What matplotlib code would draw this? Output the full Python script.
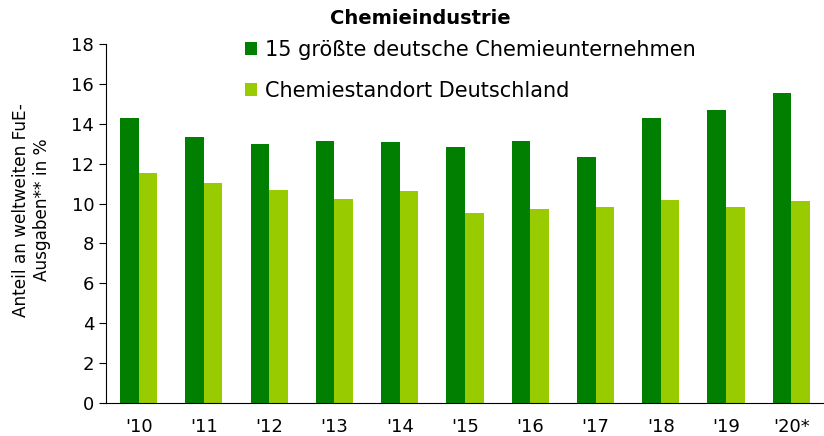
import matplotlib
matplotlib.use("Agg")
import matplotlib.pyplot as plt
import numpy as np

years = ["'10", "'11", "'12", "'13", "'14", "'15", "'16", "'17", "'18", "'19", "'20*"]
top15 = [14.3, 13.35, 13.0, 13.15, 13.1, 12.85, 13.15, 12.35, 14.3, 14.7, 15.55]
standort = [11.55, 11.05, 10.7, 10.25, 10.65, 9.5, 9.75, 9.85, 10.2, 9.85, 10.15]
yticks = [0, 2, 4, 6, 8, 10, 12, 14, 16, 18]

dark = "#007f00"
light = "#99cc00"

fig = plt.figure(figsize=(8.24, 4.36), dpi=100)
ax = fig.add_axes([0.1286, 0.0757, 0.8714, 0.8235])

x = np.arange(len(years))
w = 0.285
ax.bar(x - w / 2, top15, width=w, color=dark, label="15 größte deutsche Chemieunternehmen")
ax.bar(x + w / 2, standort, width=w, color=light, label="Chemiestandort Deutschland")

ax.set_xlim(-0.5, len(years) - 0.5)
ax.set_ylim(0, 18)
ax.set_yticks(yticks)
ax.set_xticks(x)
ax.set_xticklabels(years)
ax.tick_params(axis="x", length=0, labelsize=13, pad=11)
ax.tick_params(axis="y", length=5, labelsize=13, direction="out")
for s in ["top", "right"]:
    ax.spines[s].set_visible(False)

ax.set_ylabel("Anteil an weltweiten FuE-\nAusgaben** in %", fontsize=12.2)
ax.yaxis.set_label_coords(-0.077, 0.538)

fig.text(0.51, 0.958, "Chemieindustrie", fontsize=14, fontweight="bold",
         ha="center", va="center")

ax.legend(loc="upper left", bbox_to_anchor=(0.287, 0.927), bbox_transform=fig.transFigure,
          frameon=False, fontsize=15, handlelength=0.6, handleheight=0.6,
          handletextpad=0.35, labelspacing=0.98, borderaxespad=0)

fig.savefig("out.png", dpi=100)
plt.close(fig)
